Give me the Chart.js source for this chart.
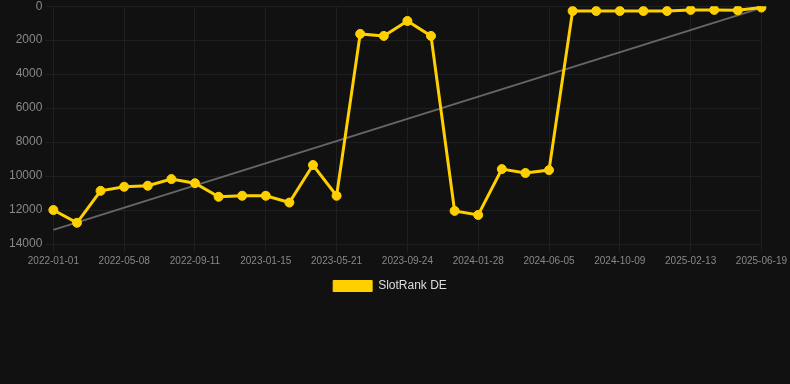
<!DOCTYPE html>
<html>
<head>
<meta charset="utf-8">
<script src="https://cdn.jsdelivr.net/npm/chart.js@4.4.1/dist/chart.umd.min.js"></script>
<style>
html,body{margin:0;padding:0;background:#111111;overflow:hidden;}
#wrap{position:relative;width:790px;height:306px;margin-top:-4px;}
</style>
</head>
<body>
<div id="wrap"><canvas id="c"></canvas></div>
<script>
const labels = [
 "2022-01-01","2022-02-12","2022-03-26","2022-05-08","2022-06-19","2022-07-31",
 "2022-09-11","2022-10-23","2022-12-04","2023-01-15","2023-02-26","2023-04-09",
 "2023-05-21","2023-07-02","2023-08-13","2023-09-24","2023-11-05","2023-12-17",
 "2024-01-28","2024-03-10","2024-04-22","2024-06-05","2024-07-17","2024-08-28",
 "2024-10-09","2024-11-20","2025-01-01","2025-02-13","2025-03-27","2025-05-08",
 "2025-06-19"
];
const slotRankDE = [
 12000,12750,10870,10630,10570,10180,10420,11220,11160,11160,11560,9350,
 11160,1630,1750,870,1750,12050,12290,9590,9820,9650,280,280,280,280,280,
 220,220,240,80
];
const trendStart = 13170;
const trendEnd = 100;
const trend = labels.map((_, i) => i === 0 ? trendStart : (i === labels.length - 1 ? trendEnd : null));

const gridCol = '#1f1f1f';

const legendShift = {
  id: 'legendShift',
  afterUpdate(chart) {
    if (chart.legend) { chart.legend.left -= 6; chart.legend.right -= 6; }
  }
};

new Chart(document.getElementById('c'), {
  type: 'line',
  plugins: [legendShift],
  data: {
    labels: labels,
    datasets: [
      {
        label: 'SlotRank DE',
        data: slotRankDE,
        borderColor: '#FFD000',
        backgroundColor: '#FFD000',
        borderWidth: 3,
        pointRadius: 4.5,
        pointHoverRadius: 4.5,
        pointBorderWidth: 1,
        pointBackgroundColor: '#FFD000',
        pointBorderColor: '#FFD000',
        tension: 0,
        order: 1
      },
      {
        label: 'trend',
        data: trend,
        spanGaps: true,
        borderColor: '#666666',
        borderWidth: 2,
        pointRadius: 0,
        fill: false,
        order: 2
      }
    ]
  },
  options: {
    responsive: true,
    maintainAspectRatio: false,
    animation: false,
    layout: { padding: { left: 6, right: 4, top: 0, bottom: 0 } },
    plugins: {
      legend: {
        position: 'bottom',
        labels: {
          color: '#dddddd',
          font: { size: 12, family: 'Liberation Sans, Arial, sans-serif' },
          boxWidth: 39,
          boxHeight: 11,
          filter: (item) => item.text !== 'trend',
          generateLabels: function(chart) {
            const items = Chart.defaults.plugins.legend.labels.generateLabels(chart);
            items.forEach(it => { it.lineWidth = 1; });
            return items;
          }
        }
      },
      tooltip: { enabled: false }
    },
    scales: {
      x: {
        offset: false,
        grid: {
          color: (ctx) => (ctx.index % 3 === 0 ? gridCol : 'rgba(0,0,0,0)'),
          tickColor: (ctx) => (ctx.index % 3 === 0 ? gridCol : 'rgba(0,0,0,0)')
        },
        border: { color: gridCol },
        ticks: {
          color: '#888888',
          font: { size: 10, family: 'Liberation Sans, Arial, sans-serif' },
          autoSkip: false,
          maxRotation: 0,
          callback: function(v, i) { return i % 3 === 0 ? labels[i] : ''; }
        }
      },
      y: {
        reverse: true,
        min: 0,
        max: 14000,
        grid: { color: gridCol, tickColor: gridCol },
        border: { color: gridCol },
        ticks: {
          stepSize: 2000,
          color: '#888888',
          font: { size: 12, family: 'Liberation Sans, Arial, sans-serif' },
          callback: (v) => String(v)
        }
      }
    }
  }
});
</script>
</body>
</html>
